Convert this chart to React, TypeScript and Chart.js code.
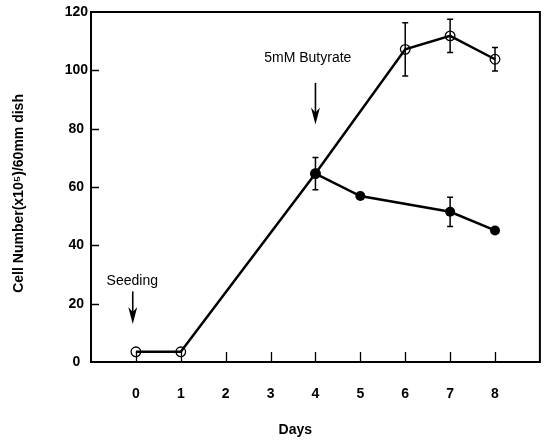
import React, { useEffect, useRef } from "react";
import { Chart, registerables } from "chart.js";

Chart.register(...registerables);

// ---- data ----
const dayTicks = [0, 1, 2, 3, 4, 5, 6, 7, 8];
const yTickValues = [0, 20, 40, 60, 80, 100, 120];

const controlDays = [0, 1, 4, 6, 7, 8];
const controlValues = [3.5, 3.5, 64.6, 107.2, 111.8, 103.8];
const controlErrors = [0, 0, 0, 9.1, 5.7, 4.0];

const butyrateDays = [4, 5, 7, 8];
const butyrateValues = [64.6, 56.9, 51.5, 45.1];
const butyrateErrors = [5.5, 0, 5.0, 0];

const xTitle = "Days";
const yTitle = "Cell Number(x10\u2075)/60mm dish";

const seedingLabel = "Seeding";
const butyrateLabel = "5mM Butyrate";

// annotation placement (in data units)
const notes = [
  { text: seedingLabel, textX: -0.08, textY: 27.7, arrowX: -0.07, from: 24.2, to: 13 },
  { text: butyrateLabel, textX: 3.83, textY: 104.3, arrowX: 4, from: 95.7, to: 81.4 },
];

const FONT = "'Liberation Sans', Arial, Helvetica, sans-serif";

const decorPlugin = {
  id: "decor",
  beforeDatasetsDraw(chart: any) {
    const { ctx, chartArea: a, scales } = chart;
    const x = scales.x;
    const y = scales.y;
    ctx.save();
    ctx.strokeStyle = "#000";
    ctx.lineWidth = 2;
    ctx.strokeRect(a.left, a.top, a.right - a.left, a.bottom - a.top);
    ctx.lineWidth = 1.3;
    ctx.beginPath();
    dayTicks.forEach((d) => {
      const px = Math.round(x.getPixelForValue(d)) + 0.5;
      ctx.moveTo(px, a.bottom);
      ctx.lineTo(px, a.bottom - 10);
    });
    yTickValues.slice(1, -1).forEach((v) => {
      const py = Math.round(y.getPixelForValue(v)) + 0.5;
      ctx.moveTo(a.left, py);
      ctx.lineTo(a.left + 8, py);
    });
    ctx.stroke();
    ctx.restore();
  },
  afterDatasetsDraw(chart: any) {
    const { ctx, scales } = chart;
    const x = scales.x;
    const y = scales.y;
    ctx.save();
    ctx.strokeStyle = "#000";
    ctx.fillStyle = "#000";
    ctx.lineWidth = 1.5;
    const bars = (ds: number[], vs: number[], es: number[]) => {
      ds.forEach((d, i) => {
        const e = es[i];
        if (!e) return;
        const px = x.getPixelForValue(d);
        const top = y.getPixelForValue(vs[i] + e);
        const bot = y.getPixelForValue(vs[i] - e);
        ctx.beginPath();
        ctx.moveTo(px, top);
        ctx.lineTo(px, bot);
        ctx.moveTo(px - 3, top);
        ctx.lineTo(px + 3, top);
        ctx.moveTo(px - 3, bot);
        ctx.lineTo(px + 3, bot);
        ctx.stroke();
      });
    };
    bars(controlDays, controlValues, controlErrors);
    bars(butyrateDays, butyrateValues, butyrateErrors);

    // annotations
    ctx.font = `14px ${FONT}`;
    ctx.textAlign = "center";
    ctx.textBaseline = "middle";
    notes.forEach((n) => {
      ctx.fillText(n.text, x.getPixelForValue(n.textX), y.getPixelForValue(n.textY));
      const ax = x.getPixelForValue(n.arrowX);
      const y0 = y.getPixelForValue(n.from);
      const y1 = y.getPixelForValue(n.to);
      ctx.lineWidth = 1.6;
      ctx.beginPath();
      ctx.moveTo(ax, y0);
      ctx.lineTo(ax, y1 - 10);
      ctx.stroke();
      ctx.beginPath();
      ctx.moveTo(ax - 4.5, y1 - 17);
      ctx.lineTo(ax, y1 - 12);
      ctx.lineTo(ax + 4.5, y1 - 17);
      ctx.lineTo(ax, y1);
      ctx.closePath();
      ctx.fill();
    });

    // axis titles
    ctx.font = `bold 14px ${FONT}`;
    ctx.fillText(xTitle, x.getPixelForValue(3.55), chart.height - 10);
    ctx.save();
    ctx.translate(19, y.getPixelForValue(57.8));
    ctx.rotate(-Math.PI / 2);
    ctx.fillText(yTitle, 0, 0);
    ctx.restore();
    ctx.restore();
  },
};

export default function App() {
  const ref = useRef<HTMLCanvasElement>(null);
  useEffect(() => {
    if (!ref.current) return;
    const chart = new Chart(ref.current, {
      type: "line",
      data: {
        datasets: [
          {
            label: "Butyrate",
            data: butyrateDays.map((d, i) => ({ x: d, y: butyrateValues[i] })),
            borderColor: "#000",
            backgroundColor: "#000",
            borderWidth: 2.5,
            pointRadius: 5,
            pointBackgroundColor: "#000",
            pointBorderColor: "#000",
            pointBorderWidth: 0,
            tension: 0,
          },
          {
            label: "Control",
            data: controlDays.map((d, i) => ({ x: d, y: controlValues[i] })),
            borderColor: "#000",
            backgroundColor: "rgba(0,0,0,0)",
            borderWidth: 2.5,
            pointRadius: 4.8,
            pointBackgroundColor: "rgba(255,255,255,0)",
            pointBorderColor: "#000",
            pointBorderWidth: 1.3,
            tension: 0,
          },
        ],
      },
      options: {
        responsive: false,
        animation: false,
        events: [],
        layout: { padding: { top: 12, right: 6, left: 0, bottom: 0 } },
        plugins: { legend: { display: false }, tooltip: { enabled: false } },
        scales: {
          x: {
            type: "linear",
            min: -1,
            max: 9,
            grid: { display: false, drawTicks: false, tickLength: 0 },
            border: { display: false },
            afterBuildTicks: (s: any) => {
              s.ticks = dayTicks.map((v) => ({ value: v }));
            },
            afterFit: (s: any) => {
              s.height = 78;
            },
            ticks: {
              autoSkip: false,
              maxRotation: 0,
              padding: 24,
              color: "#000",
              font: { family: FONT, size: 14, weight: "bold" },
            },
          },
          y: {
            type: "linear",
            min: 0,
            max: 120,
            grid: { display: false, drawTicks: false, tickLength: 0 },
            border: { display: false },
            afterBuildTicks: (s: any) => {
              s.ticks = yTickValues.map((v) => ({ value: v }));
            },
            afterFit: (s: any) => {
              s.width = 91;
            },
            ticks: {
              padding: 3,
              crossAlign: "center",
              color: "#000",
              font: { family: FONT, size: 14, weight: "bold" },
            },
          },
        },
      },
      plugins: [decorPlugin],
    });
    return () => chart.destroy();
  }, []);
  return (
    <div style={{ position: "absolute", left: 0, top: 0, width: 546, height: 440, background: "#fff" }}>
      <canvas ref={ref} width={546} height={440} style={{ display: "block" }} />
    </div>
  );
}
